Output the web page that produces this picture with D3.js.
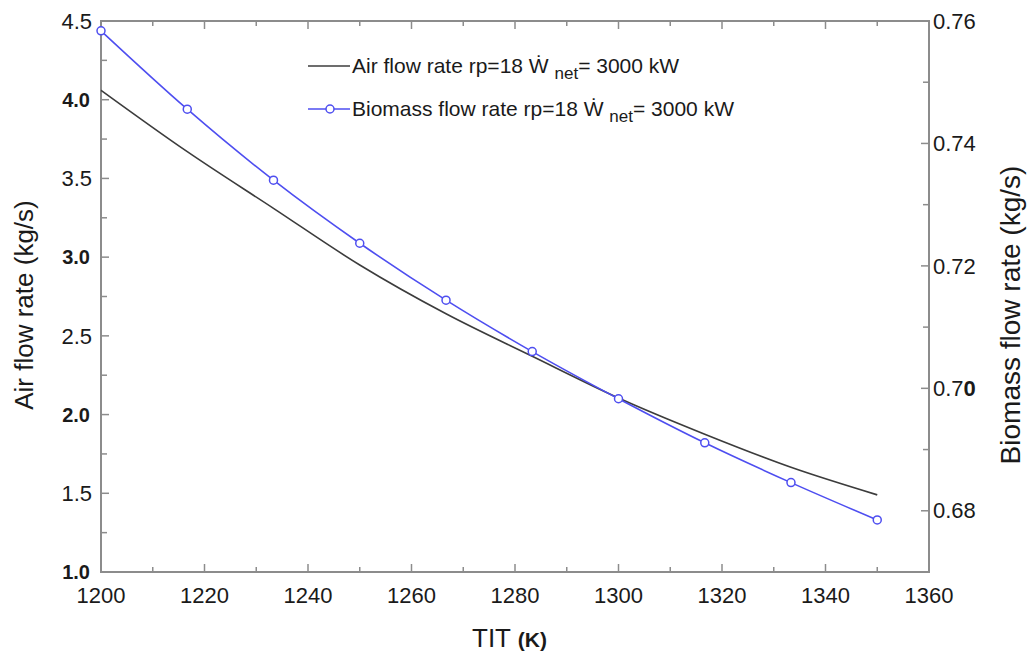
<!DOCTYPE html>
<html>
<head>
<meta charset="utf-8">
<script src="https://cdn.jsdelivr.net/npm/d3@7"></script>
<style>
  html, body { margin: 0; padding: 0; background: #fff; }
  svg text { font-family: "Liberation Sans", Arial, sans-serif; fill: #1a1a1a; }
</style>
</head>
<body>
<svg id="chart" width="1028" height="657"></svg>
<script>
// ---- data ----
const tit = [1200, 1216.67, 1233.33, 1250, 1266.67, 1283.33, 1300, 1316.67, 1333.33, 1350];
const airFlow = [4.06, 3.67, 3.31, 2.95, 2.64, 2.37, 2.105, 1.875, 1.665, 1.49];
const biomassFlow = [0.7584, 0.7456, 0.7340, 0.7237, 0.7144, 0.7060, 0.6983, 0.6911, 0.6846, 0.6785];
const xTicks = [1200, 1220, 1240, 1260, 1280, 1300, 1320, 1340, 1360];
const yLeftTicks = [1.0, 1.5, 2.0, 2.5, 3.0, 3.5, 4.0, 4.5];
const yRightTicks = [0.68, 0.70, 0.72, 0.74, 0.76];
const legendLabels = ["Air flow rate rp=18 Ẇ ", "Biomass flow rate rp=18 Ẇ "];

const svg = d3.select("#chart");
const L = 101, R = 929, T = 21, B = 572;

const x = d3.scaleLinear().domain([1200, 1360]).range([L, R]);
const yL = d3.scaleLinear().domain([1.0, 4.5]).range([B, T]);
const yR = d3.scaleLinear().domain([0.67, 0.76]).range([B, T]);

const axisColor = "#8c8c8c";
const g = svg.append("g");

// frame
g.append("rect").attr("x", L).attr("y", T).attr("width", R - L).attr("height", B - T)
  .attr("fill", "none").attr("stroke", axisColor).attr("stroke-width", 2);

const drawTick = (x1, y1, x2, y2) => g.append("line").attr("x1", x1).attr("y1", y1).attr("x2", x2).attr("y2", y2)
  .attr("stroke", axisColor).attr("stroke-width", 1.5);

// bottom & top ticks (inward)
const xMinor = d3.range(1210, 1360, 20);
xTicks.forEach(v => { drawTick(x(v), B, x(v), B - 8); drawTick(x(v), T, x(v), T + 8); });
xMinor.forEach(v => { drawTick(x(v), B, x(v), B - 5); drawTick(x(v), T, x(v), T + 5); });

// left ticks
const yLMinor = d3.range(1.25, 4.5, 0.5);
yLeftTicks.forEach(v => drawTick(L, yL(v), L + 8, yL(v)));
yLMinor.forEach(v => drawTick(L, yL(v), L + 6, yL(v)));
// right ticks
const yRMinor = [0.67, 0.69, 0.71, 0.73, 0.75];
yRightTicks.forEach(v => drawTick(R, yR(v), R - 8, yR(v)));
yRMinor.forEach(v => drawTick(R, yR(v), R - 6, yR(v)));

// tick labels
g.selectAll(".xl").data(xTicks).enter().append("text")
  .attr("x", d => x(d)).attr("y", 603).attr("text-anchor", "middle")
  .attr("font-size", 22).text(d => d);

g.selectAll(".yl").data(yLeftTicks).enter().append("text")
  .attr("x", d => Number.isInteger(d) ? 90 : 92).attr("y", d => yL(d)).attr("dy", "0.35em").attr("text-anchor", "end")
  .attr("font-size", d => Number.isInteger(d) ? 20 : 22)
  .attr("font-weight", d => Number.isInteger(d) ? "bold" : "normal")
  .text(d => d.toFixed(1));

const rl = g.selectAll(".yr").data(yRightTicks).enter().append("text")
  .attr("x", 933).attr("y", d => yR(d)).attr("dy", "0.35em").attr("text-anchor", "start")
  .attr("font-size", 22);
rl.each(function(d) {
  const s = d.toFixed(2);
  const t = d3.select(this);
  if (s === "0.70") {
    t.append("tspan").text("0.7");
    t.append("tspan").attr("font-weight", "bold").text("0");
  } else t.text(s);
});

// axis titles
g.append("text").attr("transform", "translate(33,305) rotate(-90)")
  .attr("text-anchor", "middle").attr("font-size", 26).text("Air flow rate (kg/s)");
g.append("text").attr("transform", "translate(1020,315) rotate(-90)")
  .attr("text-anchor", "middle").attr("font-size", 28).text("Biomass flow rate (kg/s)");
const xt = g.append("text").attr("x", 472).attr("y", 647).attr("font-size", 26);
xt.append("tspan").text("TIT ");
xt.append("tspan").attr("font-weight", "bold").attr("font-size", 21).text("(K)");

// lines
const airLine = d3.line().x((d, i) => x(tit[i])).y(d => yL(d)).curve(d3.curveMonotoneX);
const bioLine = d3.line().x((d, i) => x(tit[i])).y(d => yR(d)).curve(d3.curveMonotoneX);
const blue = "#4e4ef0";

g.append("path").datum(airFlow).attr("d", airLine).attr("fill", "none")
  .attr("stroke", "#3c3c3c").attr("stroke-width", 1.6);
g.append("path").datum(biomassFlow).attr("d", bioLine).attr("fill", "none")
  .attr("stroke", blue).attr("stroke-width", 1.6);
g.selectAll(".mk").data(biomassFlow).enter().append("circle")
  .attr("cx", (d, i) => x(tit[i])).attr("cy", d => yR(d)).attr("r", 4)
  .attr("fill", "#fff").attr("stroke", blue).attr("stroke-width", 1.5);

// legend
const legY = [66, 109];
const legColors = ["#3c3c3c", blue];
legendLabels.forEach((lab, i) => {
  g.append("line").attr("x1", 308).attr("x2", 350).attr("y1", legY[i]).attr("y2", legY[i])
    .attr("stroke", legColors[i]).attr("stroke-width", 1.4);
  if (i === 1) g.append("circle").attr("cx", 330).attr("cy", legY[i]).attr("r", 4)
    .attr("fill", "#fff").attr("stroke", blue).attr("stroke-width", 1.5);
  const t = g.append("text").attr("x", 352).attr("y", legY[i] + 7).attr("font-size", 21);
  t.append("tspan").text(lab);
  t.append("tspan").attr("dy", 6).attr("font-size", 17).text("net");
  t.append("tspan").attr("dy", -6).text("= 3000 kW");
});
</script>
</body>
</html>
